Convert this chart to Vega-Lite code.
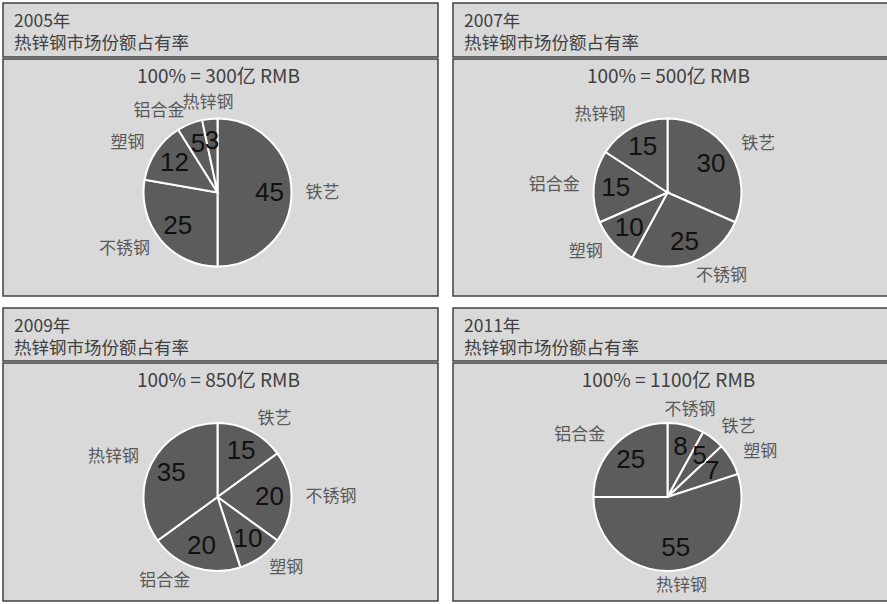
{
  "$schema": "https://vega.github.io/schema/vega-lite/v6.json",
  "padding": {"left": 2, "top": 2, "right": 0, "bottom": 0},
  "background": "white",
  "config": {
    "font": "Noto Sans CJK SC",
    "view": {"fill": "#d9d9d9", "stroke": "#404040", "strokeWidth": 1.5},
    "title": {"font": "Noto Sans CJK SC", "fontWeight": "normal", "color": "#404040"}
  },
  "spacing": 10,
  "vconcat": [
    {
      "spacing": 13,
      "hconcat": [
        {
          "spacing": 0,
          "vconcat": [
            {
              "width": 435, "height": 54,
              "view": {"fill": "#d9d9d9", "stroke": "#404040", "strokeWidth": 1.5},
              "title": {"text": ["2005年", "热锌钢市场份额占有率"], "anchor": "start", "frame": "group", "baseline": "top", "offset": -49, "dx": 11, "fontSize": 17.5, "lineHeight": 22},
              "data": {"values": [{"h": ""}]},
              "mark": "text",
              "encoding": {"text": {"field": "h"}}
            },
            {
              "width": 435, "height": 237,
              "view": {"fill": "#d9d9d9", "stroke": "#404040", "strokeWidth": 1.5},
              "title": {"text": "100% = 300亿 RMB", "anchor": "middle", "frame": "group", "baseline": "top", "offset": -28, "dx": -2, "fontSize": 19},
              "data": {"values": [
                {"k": 1, "cat": "铁艺", "v": 45},
                {"k": 2, "cat": "不锈钢", "v": 25},
                {"k": 3, "cat": "塑钢", "v": 12},
                {"k": 4, "cat": "铝合金", "v": 5},
                {"k": 5, "cat": "热锌钢", "v": 3}
              ]},
              "encoding": {"theta": {"field": "v", "type": "quantitative", "stack": "normalize"}, "order": {"field": "k", "type": "quantitative"}},
              "layer": [
                {"mark": {"type": "arc", "outerRadius": 74, "fill": "#5c5c5c", "stroke": "white", "strokeWidth": 2, "xOffset": -3, "yOffset": 15}},
                {"mark": {"type": "text", "radius": 52, "font": "Liberation Sans", "fontSize": 26, "fill": "#111111", "xOffset": -3, "yOffset": 15}, "encoding": {"text": {"field": "v", "type": "quantitative"}}},
                {"mark": {"type": "text", "radius": 88, "align": "left", "fontSize": 17, "fill": "#595959", "xOffset": -3, "yOffset": 15}, "encoding": {"text": {"field": "cat", "type": "nominal", "condition": {"test": "!(sin(PI*(datum.v_start+datum.v_end)) > 0.3)", "value": ""}}}},
                {"mark": {"type": "text", "radius": 88, "align": "right", "fontSize": 17, "fill": "#595959", "xOffset": -3, "yOffset": 15}, "encoding": {"text": {"field": "cat", "type": "nominal", "condition": {"test": "!(sin(PI*(datum.v_start+datum.v_end)) < -0.3)", "value": ""}}}},
                {"mark": {"type": "text", "radius": 90, "align": "center", "fontSize": 17, "fill": "#595959", "xOffset": -3, "yOffset": 15}, "encoding": {"text": {"field": "cat", "type": "nominal", "condition": {"test": "abs(sin(PI*(datum.v_start+datum.v_end))) > 0.3", "value": ""}}}}
              ]
            }
          ]
        },
        {
          "spacing": 0,
          "vconcat": [
            {
              "width": 435, "height": 54,
              "view": {"fill": "#d9d9d9", "stroke": "#404040", "strokeWidth": 1.5},
              "title": {"text": ["2007年", "热锌钢市场份额占有率"], "anchor": "start", "frame": "group", "baseline": "top", "offset": -49, "dx": 11, "fontSize": 17.5, "lineHeight": 22},
              "data": {"values": [{"h": ""}]},
              "mark": "text",
              "encoding": {"text": {"field": "h"}}
            },
            {
              "width": 435, "height": 237,
              "view": {"fill": "#d9d9d9", "stroke": "#404040", "strokeWidth": 1.5},
              "title": {"text": "100% = 500亿 RMB", "anchor": "middle", "frame": "group", "baseline": "top", "offset": -28, "dx": -2, "fontSize": 19},
              "data": {"values": [
                {"k": 1, "cat": "铁艺", "v": 30},
                {"k": 2, "cat": "不锈钢", "v": 25},
                {"k": 3, "cat": "塑钢", "v": 10},
                {"k": 4, "cat": "铝合金", "v": 15},
                {"k": 5, "cat": "热锌钢", "v": 15}
              ]},
              "encoding": {"theta": {"field": "v", "type": "quantitative", "stack": "normalize"}, "order": {"field": "k", "type": "quantitative"}},
              "layer": [
                {"mark": {"type": "arc", "outerRadius": 74, "fill": "#5c5c5c", "stroke": "white", "strokeWidth": 2, "xOffset": -3, "yOffset": 15}},
                {"mark": {"type": "text", "radius": 52, "font": "Liberation Sans", "fontSize": 26, "fill": "#111111", "xOffset": -3, "yOffset": 15}, "encoding": {"text": {"field": "v", "type": "quantitative"}}},
                {"mark": {"type": "text", "radius": 88, "align": "left", "fontSize": 17, "fill": "#595959", "xOffset": -3, "yOffset": 15}, "encoding": {"text": {"field": "cat", "type": "nominal", "condition": {"test": "!(sin(PI*(datum.v_start+datum.v_end)) > 0.3)", "value": ""}}}},
                {"mark": {"type": "text", "radius": 88, "align": "right", "fontSize": 17, "fill": "#595959", "xOffset": -3, "yOffset": 15}, "encoding": {"text": {"field": "cat", "type": "nominal", "condition": {"test": "!(sin(PI*(datum.v_start+datum.v_end)) < -0.3)", "value": ""}}}},
                {"mark": {"type": "text", "radius": 90, "align": "center", "fontSize": 17, "fill": "#595959", "xOffset": -3, "yOffset": 15}, "encoding": {"text": {"field": "cat", "type": "nominal", "condition": {"test": "abs(sin(PI*(datum.v_start+datum.v_end))) > 0.3", "value": ""}}}}
              ]
            }
          ]
        }
      ]
    },
    {
      "spacing": 13,
      "hconcat": [
        {
          "spacing": 0,
          "vconcat": [
            {
              "width": 435, "height": 53,
              "view": {"fill": "#d9d9d9", "stroke": "#404040", "strokeWidth": 1.5},
              "title": {"text": ["2009年", "热锌钢市场份额占有率"], "anchor": "start", "frame": "group", "baseline": "top", "offset": -49, "dx": 11, "fontSize": 17.5, "lineHeight": 22},
              "data": {"values": [{"h": ""}]},
              "mark": "text",
              "encoding": {"text": {"field": "h"}}
            },
            {
              "width": 435, "height": 238,
              "view": {"fill": "#d9d9d9", "stroke": "#404040", "strokeWidth": 1.5},
              "title": {"text": "100% = 850亿 RMB", "anchor": "middle", "frame": "group", "baseline": "top", "offset": -28, "dx": -2, "fontSize": 19},
              "data": {"values": [
                {"k": 1, "cat": "铁艺", "v": 15},
                {"k": 2, "cat": "不锈钢", "v": 20},
                {"k": 3, "cat": "塑钢", "v": 10},
                {"k": 4, "cat": "铝合金", "v": 20},
                {"k": 5, "cat": "热锌钢", "v": 35}
              ]},
              "encoding": {"theta": {"field": "v", "type": "quantitative", "stack": "normalize"}, "order": {"field": "k", "type": "quantitative"}},
              "layer": [
                {"mark": {"type": "arc", "outerRadius": 74, "fill": "#5c5c5c", "stroke": "white", "strokeWidth": 2, "xOffset": -3, "yOffset": 15}},
                {"mark": {"type": "text", "radius": 52, "font": "Liberation Sans", "fontSize": 26, "fill": "#111111", "xOffset": -3, "yOffset": 15}, "encoding": {"text": {"field": "v", "type": "quantitative"}}},
                {"mark": {"type": "text", "radius": 88, "align": "left", "fontSize": 17, "fill": "#595959", "xOffset": -3, "yOffset": 15}, "encoding": {"text": {"field": "cat", "type": "nominal", "condition": {"test": "!(sin(PI*(datum.v_start+datum.v_end)) > 0.3)", "value": ""}}}},
                {"mark": {"type": "text", "radius": 88, "align": "right", "fontSize": 17, "fill": "#595959", "xOffset": -3, "yOffset": 15}, "encoding": {"text": {"field": "cat", "type": "nominal", "condition": {"test": "!(sin(PI*(datum.v_start+datum.v_end)) < -0.3)", "value": ""}}}},
                {"mark": {"type": "text", "radius": 90, "align": "center", "fontSize": 17, "fill": "#595959", "xOffset": -3, "yOffset": 15}, "encoding": {"text": {"field": "cat", "type": "nominal", "condition": {"test": "abs(sin(PI*(datum.v_start+datum.v_end))) > 0.3", "value": ""}}}}
              ]
            }
          ]
        },
        {
          "spacing": 0,
          "vconcat": [
            {
              "width": 435, "height": 53,
              "view": {"fill": "#d9d9d9", "stroke": "#404040", "strokeWidth": 1.5},
              "title": {"text": ["2011年", "热锌钢市场份额占有率"], "anchor": "start", "frame": "group", "baseline": "top", "offset": -49, "dx": 11, "fontSize": 17.5, "lineHeight": 22},
              "data": {"values": [{"h": ""}]},
              "mark": "text",
              "encoding": {"text": {"field": "h"}}
            },
            {
              "width": 435, "height": 238,
              "view": {"fill": "#d9d9d9", "stroke": "#404040", "strokeWidth": 1.5},
              "title": {"text": "100% = 1100亿 RMB", "anchor": "middle", "frame": "group", "baseline": "top", "offset": -28, "dx": -2, "fontSize": 19},
              "data": {"values": [
                {"k": 1, "cat": "不锈钢", "v": 8},
                {"k": 2, "cat": "铁艺", "v": 5},
                {"k": 3, "cat": "塑钢", "v": 7},
                {"k": 4, "cat": "热锌钢", "v": 55},
                {"k": 5, "cat": "铝合金", "v": 25}
              ]},
              "encoding": {"theta": {"field": "v", "type": "quantitative", "stack": "normalize"}, "order": {"field": "k", "type": "quantitative"}},
              "layer": [
                {"mark": {"type": "arc", "outerRadius": 74, "fill": "#5c5c5c", "stroke": "white", "strokeWidth": 2, "xOffset": -3, "yOffset": 15}},
                {"mark": {"type": "text", "radius": 52, "font": "Liberation Sans", "fontSize": 26, "fill": "#111111", "xOffset": -3, "yOffset": 15}, "encoding": {"text": {"field": "v", "type": "quantitative"}}},
                {"mark": {"type": "text", "radius": 88, "align": "left", "fontSize": 17, "fill": "#595959", "xOffset": -3, "yOffset": 15}, "encoding": {"text": {"field": "cat", "type": "nominal", "condition": {"test": "!(sin(PI*(datum.v_start+datum.v_end)) > 0.3)", "value": ""}}}},
                {"mark": {"type": "text", "radius": 88, "align": "right", "fontSize": 17, "fill": "#595959", "xOffset": -3, "yOffset": 15}, "encoding": {"text": {"field": "cat", "type": "nominal", "condition": {"test": "!(sin(PI*(datum.v_start+datum.v_end)) < -0.3)", "value": ""}}}},
                {"mark": {"type": "text", "radius": 90, "align": "center", "fontSize": 17, "fill": "#595959", "xOffset": -3, "yOffset": 15}, "encoding": {"text": {"field": "cat", "type": "nominal", "condition": {"test": "abs(sin(PI*(datum.v_start+datum.v_end))) > 0.3", "value": ""}}}}
              ]
            }
          ]
        }
      ]
    }
  ]
}
